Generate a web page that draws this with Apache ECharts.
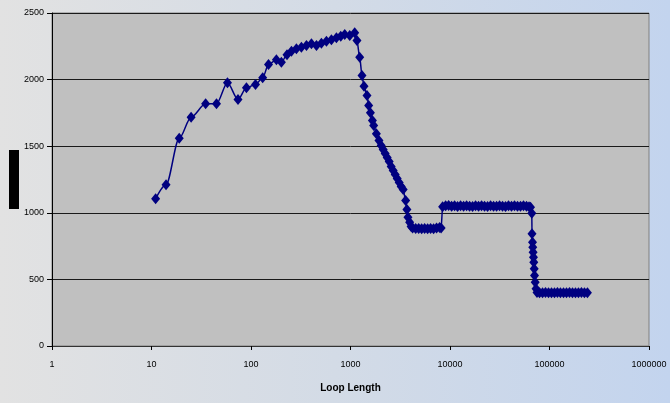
<!DOCTYPE html>
<html>
<head>
<meta charset="utf-8">
<script src="https://cdn.jsdelivr.net/npm/echarts@6/dist/echarts.min.js"></script>
<style>
  html, body { margin: 0; padding: 0; }
  #chart { width: 670px; height: 403px; }
</style>
</head>
<body>
<div id="chart"></div>
<script>
// Loop length (log scale) and the measured value at each length
const loopLength = [
  11, 14, 19, 25, 35, 45, 58, 74, 90, 111,
  131, 150, 180, 202, 230, 255, 286, 321, 361, 405,
  455, 510, 573, 643, 722, 798, 875, 982, 1102, 1161,
  1237, 1305, 1367, 1465, 1523, 1585, 1660, 1710, 1820, 1932,
  2033, 2130, 2230, 2336, 2447, 2563, 2685, 2812, 2945, 3085,
  3231, 3384, 3583, 3690, 3777, 3930, 4066, 4211, 4518, 4842,
  5188, 5559, 5957, 6383, 6839, 7328, 7852, 8140,
  8430, 9040, 9690, 10380, 11120, 11920, 12770, 13700, 14680, 15730,
  16860, 18070, 19360, 20750, 22240, 23860, 25570, 27400, 29370, 31470,
  33730, 36150, 38740, 41520, 44490, 47700, 51130, 54800, 58730, 62260,
  64450, 66400, 66700, 67500, 67900, 68400, 69000, 69500, 70200, 70700,
  71800, 73200, 74900,
  79400, 85100, 91200, 97700, 104700, 112200, 120200, 128800, 138300, 148200,
  158800, 170200, 182400, 195400, 209400, 224400, 240500
];
const values = [
  1105, 1210, 1560, 1718, 1818, 1818, 1976, 1851, 1938, 1963,
  2014, 2113, 2149, 2131, 2186, 2213, 2231, 2243, 2256, 2269,
  2256, 2273, 2288, 2299, 2314, 2326, 2339, 2331, 2352, 2294,
  2168, 2031, 1951, 1881, 1806, 1751, 1693, 1656, 1593, 1543,
  1505, 1475, 1445, 1415, 1385, 1348, 1318, 1288, 1258, 1228,
  1198, 1175, 1092, 1025, 967, 929, 897, 885, 882, 882,
  880, 882, 880, 882, 880, 885, 890, 885,
  1045, 1052, 1055, 1050, 1052, 1048, 1052, 1050, 1053, 1050,
  1048, 1052, 1050, 1053, 1050, 1048, 1052, 1050, 1050, 1052,
  1050, 1048, 1052, 1050, 1053, 1050, 1050, 1052, 1050, 1045,
  1042, 997, 842, 779, 742, 704, 667, 629, 580, 529,
  479, 429, 402,
  400, 400, 402, 400, 400, 400, 402, 400, 400, 400,
  402, 400, 400, 400, 402, 400, 400
];
const xTickLabels = ['1', '10', '100', '1000', '10000', '100000', '1000000'];
const yMax = 2500;
const yStep = 500;

const points = loopLength.map((x, i) => [x, values[i]]);

const chart = echarts.init(document.getElementById('chart'), null, { renderer: 'canvas' });
chart.setOption({
  animation: false,
  backgroundColor: {
    type: 'linear', x: 0, y: 0, x2: 1, y2: 0,
    colorStops: [
      { offset: 0, color: '#e2e2e2' },
      { offset: 0.5, color: '#d3dbe6' },
      { offset: 1, color: '#c3d4ee' }
    ]
  },
  textStyle: { fontFamily: 'Liberation Sans, Arial, sans-serif' },
  graphic: [
    { type: 'rect', shape: { x: 9, y: 150, width: 10, height: 59 }, style: { fill: '#000' } }
  ],
  grid: {
    left: 52, right: 21, top: 13, bottom: 57,
    show: true, backgroundColor: '#c0c0c0', borderColor: '#808080', borderWidth: 1
  },
  xAxis: {
    type: 'log', logBase: 10, min: 1, max: 1000000, interval: 1,
    name: 'Loop Length', nameLocation: 'middle', nameGap: 37,
    nameTextStyle: { fontSize: 10, fontWeight: 'bold', color: '#000' },
    axisLine: { show: true, lineStyle: { color: '#333', width: 1 } },
    axisTick: { show: true, inside: false, length: 4, lineStyle: { color: '#000' } },
    axisLabel: {
      margin: 14, fontSize: 9, color: '#000',
      formatter: (v) => {
        const k = Math.round(Math.log10(v));
        return xTickLabels[k] !== undefined ? xTickLabels[k] : '';
      }
    },
    splitLine: { show: false }
  },
  yAxis: {
    type: 'value', min: 0, max: yMax, interval: yStep,
    axisLine: { show: true, lineStyle: { color: '#000', width: 1 } },
    axisTick: { show: true, inside: false, length: 5, lineStyle: { color: '#000' } },
    axisLabel: { margin: 8, fontSize: 9, color: '#000', formatter: (v) => String(v) },
    splitLine: { show: true, lineStyle: { color: '#1a1a1a', width: 1 } }
  },
  series: [{
    type: 'line',
    data: points,
    smooth: 0.3,
    smoothMonotone: 'x',
    symbol: 'diamond',
    symbolSize: [9, 11],
    itemStyle: { color: '#000080' },
    lineStyle: { color: '#000080', width: 1.5 },
    clip: true
  }]
});
</script>
</body>
</html>
